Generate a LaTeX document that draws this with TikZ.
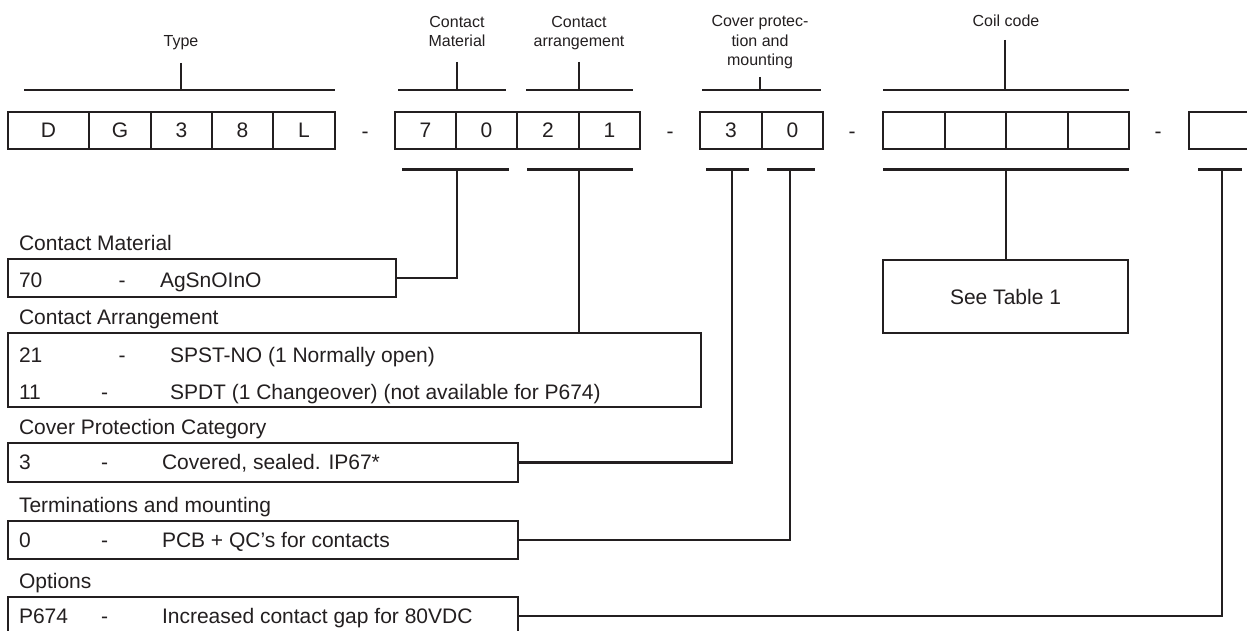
\documentclass[tikz,border=0pt]{standalone}
\usepackage{fontspec}
\setmainfont{Liberation Sans}
\definecolor{ink}{HTML}{231F20}
\begin{document}
\begin{tikzpicture}[x=1pt,y=-1pt,
  every node/.style={inner sep=0pt, outer sep=0pt, text=ink},
  ln/.style={draw=ink, line width=2.2pt},
  cell/.style={draw=ink, line width=2.2pt, minimum height=37pt, font=\fontsize{21}{25}\selectfont},
  dashsym/.style={anchor=base, font=\fontsize{21}{25}\selectfont},
  toplabel/.style={anchor=base, align=center, font=\fontsize{16}{19.5}\selectfont},
  listbox/.style={draw=ink, line width=2.2pt, anchor=north west},
  btxt/.style={anchor=base west, font=\fontsize{21}{25}\selectfont},
  bdash/.style={anchor=base, font=\fontsize{21}{25}\selectfont},
  tablebox/.style={draw=ink, line width=2.2pt, font=\fontsize{21}{25}\selectfont}]
\useasboundingbox[fill=white] (0,0) rectangle (1247,631);

% ---------- code cells ----------
\node[cell, minimum width=81pt]   (cD)  at (48.5,130.5) {D};
\node[cell, minimum width=62pt]   (cG)  at (120,130.5)  {G};
\node[cell, minimum width=61pt]   (c3)  at (181.5,130.5) {3};
\node[cell, minimum width=61pt]   (c8)  at (242.5,130.5) {8};
\node[cell, minimum width=62pt]   (cL)  at (304,130.5)  {L};
\node[dashsym] (d1) at (365,139) {-};
\node[cell, minimum width=61.3pt] (c7)  at (425.4,130.5) {7};
\node[cell, minimum width=61.3pt] (c0)  at (486.5,130.5) {0};
\node[cell, minimum width=61.3pt] (c2)  at (548,130.5)  {2};
\node[cell, minimum width=61.3pt] (c1)  at (609.5,130.5) {1};
\node[dashsym] (d2) at (670,139) {-};
\node[cell, minimum width=62pt]   (cc3) at (731,130.5)  {3};
\node[cell, minimum width=61pt]   (cc0) at (792.5,130.5) {0};
\node[dashsym] (d3) at (852,139) {-};
\node[cell, minimum width=61.5pt] (k1)  at (914,130.5)  {};
\node[cell, minimum width=61.5pt] (k2)  at (975.5,130.5) {};
\node[cell, minimum width=61.5pt] (k3)  at (1037,130.5) {};
\node[cell, minimum width=61.5pt] (k4)  at (1098.5,130.5) {};
\node[dashsym] (d4) at (1158,139) {-};
\node[cell, minimum width=80pt]   (opt) at (1229,130.5) {};

% ---------- top labels (base = last line) ----------
\node[toplabel] (lType) at (181,47) {Type};
\node[toplabel] (lCM)   at (457,47) {Contact\\Material};
\node[toplabel] (lCA)   at (579,47) {Contact\\arrangement};
\node[toplabel] (lCP)   at (760,66) {Cover protec-\\tion and\\mounting};
\node[toplabel] (lCC)   at (1006,27) {Coil code};

% top brackets
\coordinate (tTs) at (181,63);  \coordinate (tTb) at (181,90);
\draw[ln] (24,90) -- (335,90);  \draw[ln] (tTs) -- (tTb);
\coordinate (tMs) at (457,62);  \coordinate (tMb) at (457,90);
\draw[ln] (398,90) -- (506,90); \draw[ln] (tMs) -- (tMb);
\coordinate (tAs) at (579,62);  \coordinate (tAb) at (579,90);
\draw[ln] (526,90) -- (633,90); \draw[ln] (tAs) -- (tAb);
\coordinate (tPs) at (760,77);  \coordinate (tPb) at (760,90);
\draw[ln] (702,90) -- (821,90); \draw[ln] (tPs) -- (tPb);
\coordinate (tCs) at (1005,40); \coordinate (tCb) at (1005,90);
\draw[ln] (883,90) -- (1129,90); \draw[ln] (tCs) -- (tCb);

% bottom brackets
\draw[ln] (402,169.5) -- (509,169.5);
\draw[ln] (527,169.5) -- (633,169.5);
\draw[ln] (706,169.5) -- (749,169.5);
\draw[ln] (767,169.5) -- (815,169.5);
\draw[ln] (883,169.5) -- (1129,169.5);
\draw[ln] (1198,169.5) -- (1242,169.5);
\coordinate (sM) at (457,169.5);
\coordinate (sA) at (579,169.5);
\coordinate (sP1) at (732,169.5);
\coordinate (sP2) at (790,169.5);
\coordinate (sC) at (1006,169.5);
\coordinate (sO) at (1222,169.5);

% ---------- list boxes ----------
\node[listbox, minimum width=388pt, minimum height=38pt] (b1) at (8,259) {};
\node[listbox, minimum width=693pt, minimum height=74pt] (b2) at (8,333) {};
\node[listbox, minimum width=510pt, minimum height=39pt] (b3) at (8,443) {};
\node[listbox, minimum width=510pt, minimum height=38pt] (b4) at (8,521) {};
\node[listbox, minimum width=510pt, minimum height=38pt] (b5) at (8,597) {};
\node[tablebox, minimum width=245pt, minimum height=73pt] (see) at (1005.5,296.5) {See Table 1};

\node[btxt] (lb1) at (19,250) {Contact Material};
\node[btxt] (t1a) at (19,287) {70};
\node[bdash] (t1b) at (122,287) {-};
\node[btxt] (t1c) at (160,287) {AgSnOInO};

\node[btxt] (lb2) at (19,324) {Contact Arrangement};
\node[btxt] (t2a) at (19,362) {21};
\node[bdash] (t2b) at (122,362) {-};
\node[btxt] (t2c) at (170,362) {SPST-NO (1 Normally open)};
\node[btxt] (t3a) at (19,399) {11};
\node[bdash] (t3b) at (104.5,399) {-};
\node[btxt] (t3c) at (170,399) {SPDT (1 Changeover) (not available for P674)};

\node[btxt] (lb3) at (19,434) {Cover Protection Category};
\node[btxt] (t4a) at (19,469) {3};
\node[bdash] (t4b) at (104.5,469) {-};
\node[btxt] (t4c) at (162,469) {Covered, sealed. IP67*};

\node[btxt] (lb4) at (19,512) {Terminations and mounting};
\node[btxt] (t5a) at (19,547) {0};
\node[bdash] (t5b) at (104.5,547) {-};
\node[btxt] (t5c) at (162,547) {PCB + QC’s for contacts};

\node[btxt] (lb5) at (19,588) {Options};
\node[btxt] (t6a) at (19,623) {P674};
\node[bdash] (t6b) at (104.5,623) {-};
\node[btxt] (t6c) at (162,623) {Increased contact gap for 80VDC};

% ---------- connectors ----------
\draw[ln] (sM) |- (b1.east);
\draw[ln] (sA) -- (sA |- b2.north);
\draw[ln] (sP1) |- (b3.east);
\draw[ln] (sP2) |- (b4.east);
\draw[ln] (sC) -- (sC |- see.north);
\draw[ln] (sO) |- (b5.east);
\end{tikzpicture}
\end{document}
